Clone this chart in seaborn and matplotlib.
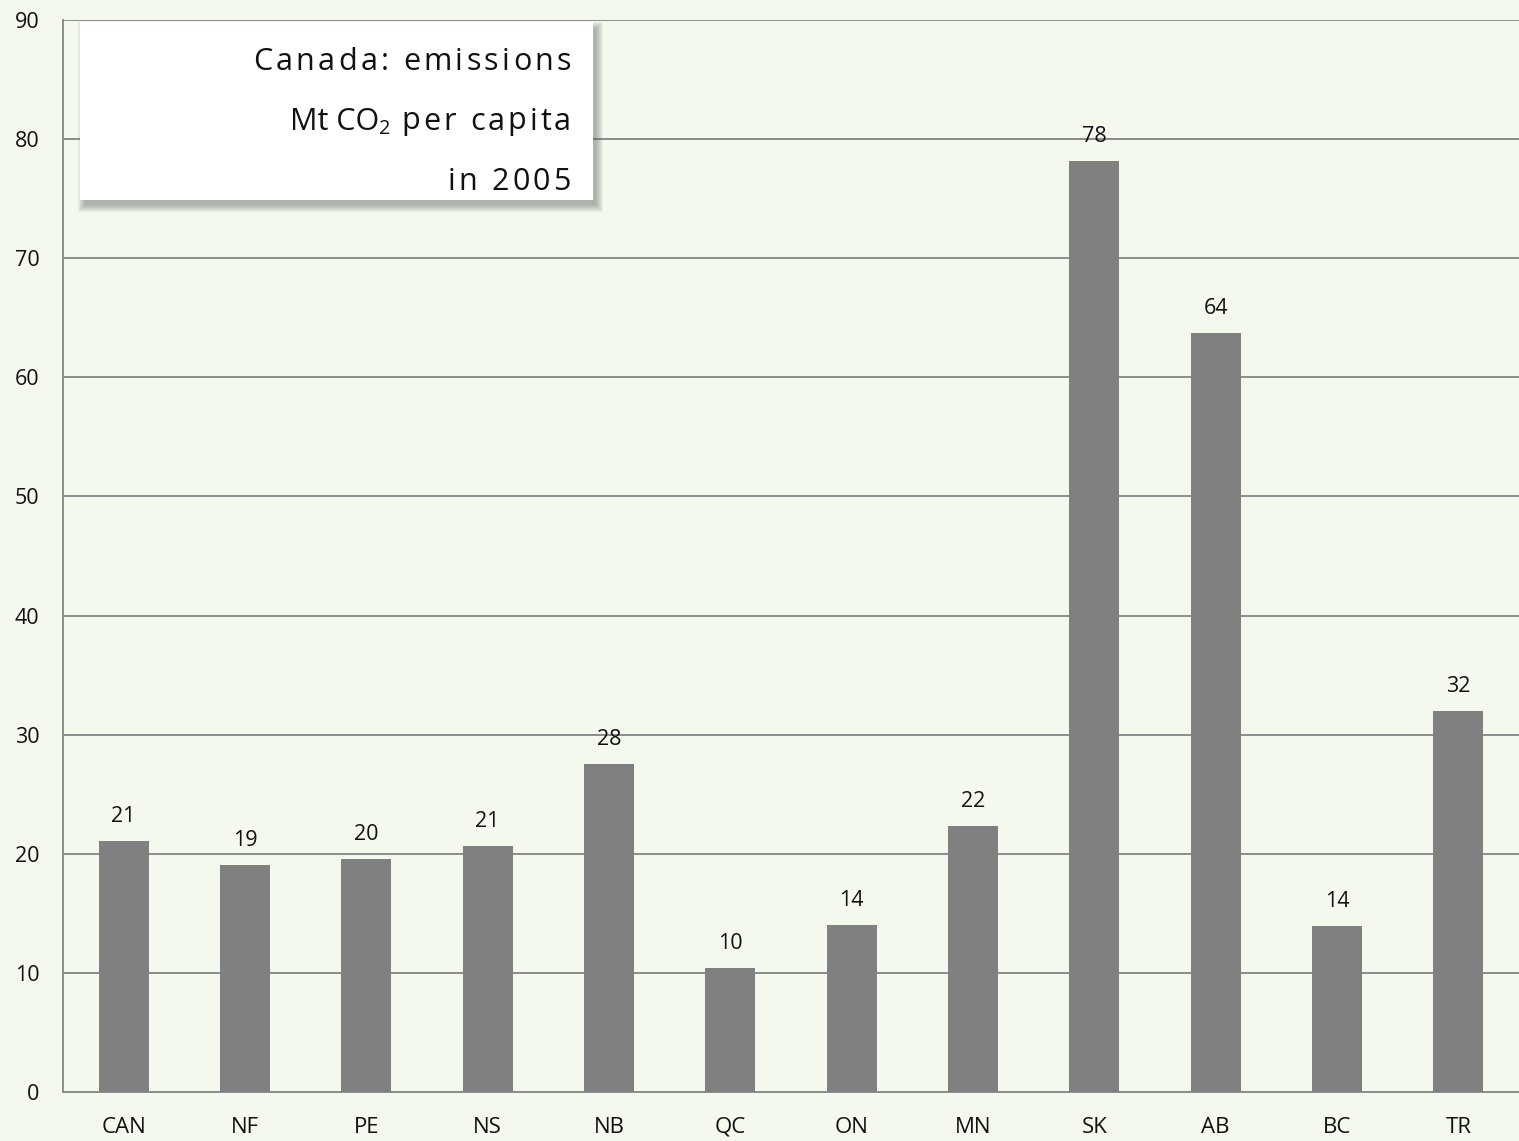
import matplotlib
matplotlib.use("Agg")
import matplotlib.pyplot as plt
import seaborn as sns
import pandas as pd
from matplotlib.patches import Rectangle
from matplotlib.transforms import IdentityTransform

regions = ["CAN", "NF", "PE", "NS", "NB", "QC", "ON", "MN", "SK", "AB", "BC", "TR"]
emissions = [21.07, 19.06, 19.56, 20.65, 27.54, 10.41, 14.02, 22.33, 78.17, 63.73, 13.94, 31.99]
yticks = [0, 10, 20, 30, 40, 50, 60, 70, 80, 90]

df = pd.DataFrame({"region": regions, "value": emissions})

sns.set_theme(style="white")
plt.rcParams['font.family'] = ['Open Sans', 'DejaVu Sans']

bg = "#F5F8EE"
W, H = 1519, 1141
fig = plt.figure(figsize=(W / 100, H / 100), dpi=100, facecolor=bg)
ax = fig.add_axes([63 / W, 49 / H, 1 - 63 / W, (1092 - 20) / H])
ax.set_facecolor(bg)

sns.barplot(data=df, x="region", y="value", color="#808080", saturation=1,
            width=0.41, ax=ax, zorder=3, linewidth=0, edgecolor="none")

ax.set_ylim(0, 90)
ax.set_xlim(-0.5, len(regions) - 0.5)
ax.set_yticks(yticks)
ax.set_yticklabels([str(t) for t in yticks], fontsize=15.5, color="#111111")
ax.set_xlabel("")
ax.set_ylabel("")
ax.tick_params(axis="x", labelsize=16, colors="#111111", length=0, pad=18)
ax.tick_params(axis="y", length=8, width=1.3, color="#8c8c8c", direction="out", pad=9)

ax.yaxis.grid(True, color="#8c8c8c", linewidth=1.4, zorder=0)
ax.set_axisbelow(True)

ax.set_xticks([i - 0.5 for i in range(len(regions) + 1)], minor=True)
ax.tick_params(axis="x", which="minor", length=9, width=1.3, color="#8c8c8c", direction="out")

for s in ["top", "right"]:
    ax.spines[s].set_visible(False)
for s in ["left", "bottom"]:
    ax.spines[s].set_color("#8c8c8c")
    ax.spines[s].set_linewidth(1.4)

for c in ax.containers:
    ax.bar_label(c, fmt="%.0f", padding=10, fontsize=15.5, color="#111111")

# title box with soft shadow (figure pixel coords)
px = IdentityTransform()
bx0, bx1 = 80, 593
btop, bbot = 22, 200
for k in range(8, 0, -1):
    ax.add_patch(Rectangle((bx0 + 4 - k + 2, H - bbot - 6 - k + 2), (bx1 - bx0) + 2 * k - 4,
                           (bbot - btop) + 2 * k - 4, transform=px,
                           facecolor="#606060", edgecolor="none", alpha=0.07, zorder=5))
ax.add_patch(Rectangle((bx0, H - bbot), bx1 - bx0, bbot - btop, transform=px,
                       facecolor="white", edgecolor="none", zorder=6))

# title text with letter spacing, right aligned at x=570
fig.canvas.draw()
renderer = fig.canvas.get_renderer()
fs = 22

def measure(s, size):
    t = fig.text(0, 0, s, fontsize=size)
    w = t.get_window_extent(renderer).width
    t.remove()
    return w

def draw_line(tokens, right_x, y_center, spacing):
    items = []
    for s, size, dy, spaced in tokens:
        if spaced:
            for ch in s:
                items.append((ch, size, dy, spacing))
        else:
            items.append((s, size, dy, 0))
    widths = []
    for s, size, dy, sp in items:
        if s == " ":
            w = measure("a a", size) - measure("aa", size)
        else:
            w = measure(s, size)
        widths.append(w)
    total = sum(w + sp for w, (_, _, _, sp) in zip(widths, items)) - items[-1][3]
    x = right_x - total
    for (s, size, dy, sp), w in zip(items, widths):
        if s != " ":
            ax.text(x, H - y_center - dy, s, transform=px, fontsize=size,
                    ha="left", va="center_baseline",
                    color="#111111", zorder=7)
        x += w + sp

draw_line([("Canada: emissions", fs, 0, True)], 571, 58, 3.3)
draw_line([("Mt CO", fs, 0, False), ("2", fs * 0.65, 8, False), (" per capita", fs, 0, True)], 571, 118, 3.0)
draw_line([("in 2005", fs, 0, True)], 571, 178, 3.3)

fig.savefig("out.png", dpi=100, facecolor=bg)
